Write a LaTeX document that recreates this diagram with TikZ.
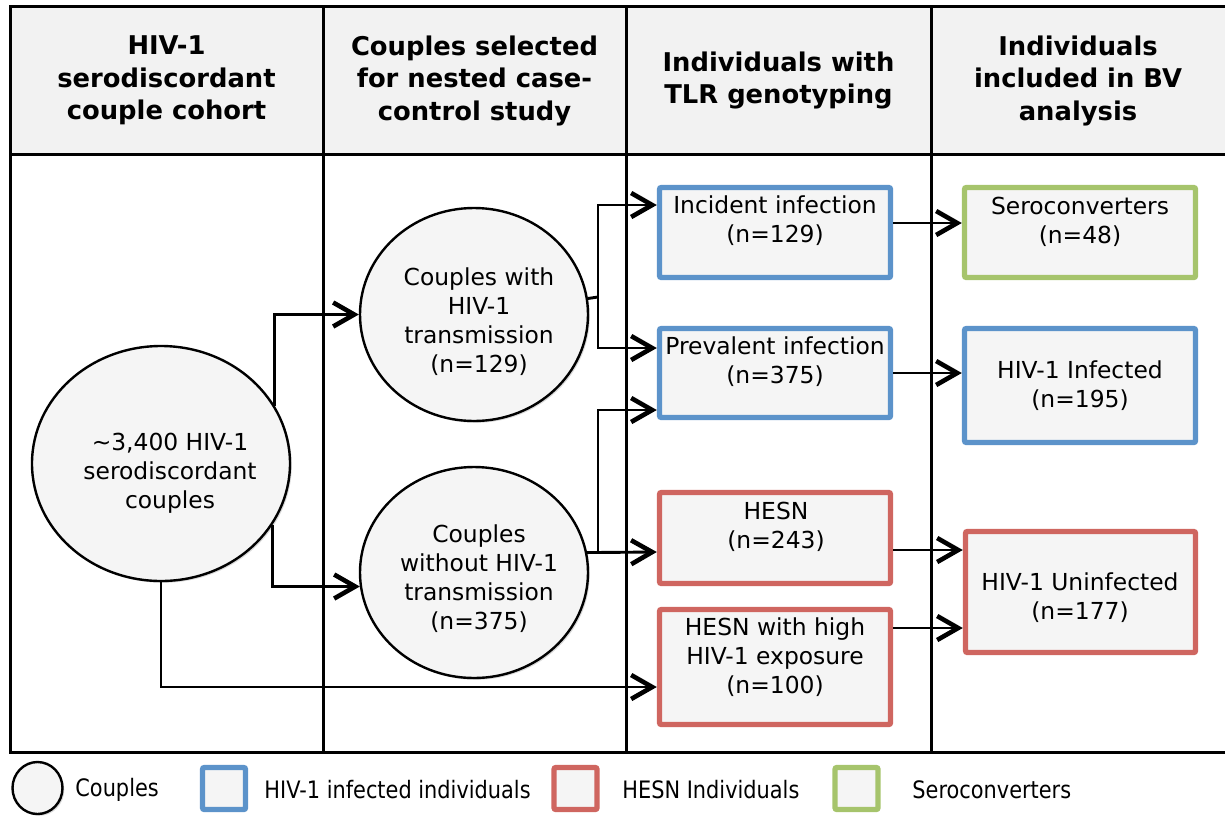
\documentclass[tikz,border=0pt]{standalone}
\usepackage{fontspec}
\setmainfont{DejaVu Sans}
\usetikzlibrary{arrows.meta,shapes.geometric,shadows,calc}
\definecolor{hivblue}{RGB}{92,147,202}
\definecolor{hesnred}{RGB}{207,102,96}
\definecolor{sergreen}{RGB}{166,196,108}
\definecolor{boxfill}{RGB}{245,245,245}
\definecolor{headfill}{RGB}{242,242,242}
\newcommand{\legscale}[1]{\scalebox{0.87}[1]{#1}}
\begin{document}
\begin{tikzpicture}[x=0.5pt,y=-0.5pt,
  frame/.style={line width=1.5pt, black},
  shad/.style={drop shadow={shadow xshift=0.9pt, shadow yshift=-0.9pt, opacity=0.25, fill=black!60}},
  couple/.style={ellipse, draw=black, line width=1.2pt, fill=boxfill, inner sep=0pt, shad},
  grpbox/.style={rectangle, draw=#1, line width=2.7pt, fill=boxfill, rounded corners=1pt,
     minimum width=115.5pt, inner sep=0pt, shad},
  legbox/.style={rectangle, draw=#1, line width=2.7pt, fill=boxfill, rounded corners=1pt,
     minimum width=21.5pt, minimum height=21pt, inner sep=0pt, shad},
  headtxt/.style={align=center, font=\fontsize{12.9}{16.25}\selectfont\bfseries, inner sep=0pt},
  bodytxt/.style={align=center, font=\fontsize{11.7}{14.5}\selectfont, inner sep=0pt},
  legtxt/.style={anchor=west, font=\fontsize{12}{14}\selectfont, inner sep=0pt},
  conn/.style={line width=1.45pt, black},
  arr/.style={conn, -{Straight Barb[length=10.5pt, width=12pt, line width=2.3pt]}}
]
\useasboundingbox (0,0) rectangle (1225,815);
% table frame
\fill[headfill] (10,6) rectangle (1230,154);
\draw[frame] (1230,6) -- (10,6) -- (10,752) -- (1230,752);
\draw[frame] (10,154) -- (1230,154);
\draw[frame] (323,6) -- (323,752);
\draw[frame] (626,6) -- (626,752);
\draw[frame] (931,6) -- (931,752);
% headers
\node[headtxt] (h1) at (166.5,80.5) {HIV-1\\serodiscordant\\couple cohort};
\node[headtxt] (h2) at (474.5,80.5) {Couples selected\\for nested case-\\control study};
\node[headtxt] (h3) at (778.5,80.5) {Individuals with\\TLR genotyping};
\node[headtxt] (h4) at (1078,80.5) {Individuals\\included in BV\\analysis};
% couples
\node[couple, minimum width=129pt, minimum height=117.5pt] (bc) at (161,463.5) {};
\node[bodytxt] (bcT) at (170,473.5) {\textasciitilde3,400 HIV-1\\serodiscordant\\couples};
\node[couple, minimum width=114pt, minimum height=106.5pt] (up) at (474,314.5) {};
\node[bodytxt] (upT) at (479,321.5) {Couples with\\HIV-1\\transmission\\(n=129)};
\node[couple, minimum width=114pt, minimum height=105.5pt] (low) at (474,572.5) {};
\node[bodytxt] (lowT) at (479,578.5) {Couples\\without HIV-1\\transmission\\(n=375)};
% individuals
\node[grpbox=hivblue, minimum height=45pt] (inc) at (775,232.5) {};
\node[bodytxt] (incT) at (775,221) {Incident infection\\(n=129)};
\node[grpbox=hivblue, minimum height=44.5pt] (prev) at (775,373) {};
\node[bodytxt] (prevT) at (775,361.5) {Prevalent infection\\(n=375)};
\node[grpbox=hesnred, minimum height=45.5pt] (hesn) at (775,538) {};
\node[bodytxt] (hesnT) at (776,527) {HESN\\ (n=243)};
\node[grpbox=hesnred, minimum height=57.5pt] (hh) at (775,667) {};
\node[bodytxt] (hhT) at (775,657.5) {HESN with high\\HIV-1 exposure\\(n=100)};
% BV analysis
\node[grpbox=sergreen, minimum height=45pt] (sero) at (1080,232.5) {};
\node[bodytxt] (seroT) at (1080,221.5) {Seroconverters\\(n=48)};
\node[grpbox=hivblue, minimum height=57pt] (hinf) at (1080,385.5) {};
\node[bodytxt] (hinfT) at (1080,386) {HIV-1 Infected\\(n=195)};
\node[grpbox=hesnred, minimum width=115pt, minimum height=60.5pt] (uninf) at (1080.5,592) {};
\node[bodytxt] (uninfT) at (1080,597.5) {HIV-1 Uninfected\\(n=177)};
% connectors
\draw[arr] (bc.27) |- (up.west);
\draw[arr] (bc.-29) |- (low.187.3);
\draw[arr] (bc.south) |- ($(hh.west)+(0,20)$);
\coordinate (j1) at (598,297);
\coordinate (j2) at (598,552);
\draw[conn] (up.8.9) -- (j1);
\draw[arr] (j1) |- ($(inc.west)+(0,-27.5)$);
\draw[arr] (j1) |- ($(prev.west)+(0,-25)$);
\draw[arr] (low.10.4) -- ($(hesn.west)+(0,14)$);
\draw[arr] (j2) |- ($(prev.west)+(0,37)$);
\draw[arr] ($(inc.east)+(0,-9.5)$) -- ($(sero.west)+(0,-9.5)$);
\draw[arr] (prev.east) -- ($(hinf.west)+(0,-12.5)$);
\draw[arr] ($(hesn.east)+(0,12)$) -- ($(uninf.west)+(0,-42)$);
\draw[arr] ($(hh.east)+(0,-39)$) -- ($(uninf.west)+(0,36)$);
% legend
\node[couple, minimum width=25pt, minimum height=26pt] (lc) at (37.5,788) {};
\node[legtxt] (lcT) at (75,790) {\legscale{Couples}};
\node[legbox=hivblue] (lb) at (224,788.5) {};
\node[legtxt] (lbT) at (264,790) {\legscale{HIV-1 infected individuals}};
\node[legbox=hesnred] (lr) at (575.5,788.5) {};
\node[legtxt] (lrT) at (622,790) {\legscale{HESN Individuals}};
\node[legbox=sergreen] (lg) at (856.5,788.5) {};
\node[legtxt] (lgT) at (912,790) {\legscale{Seroconverters}};
\end{tikzpicture}
\end{document}
